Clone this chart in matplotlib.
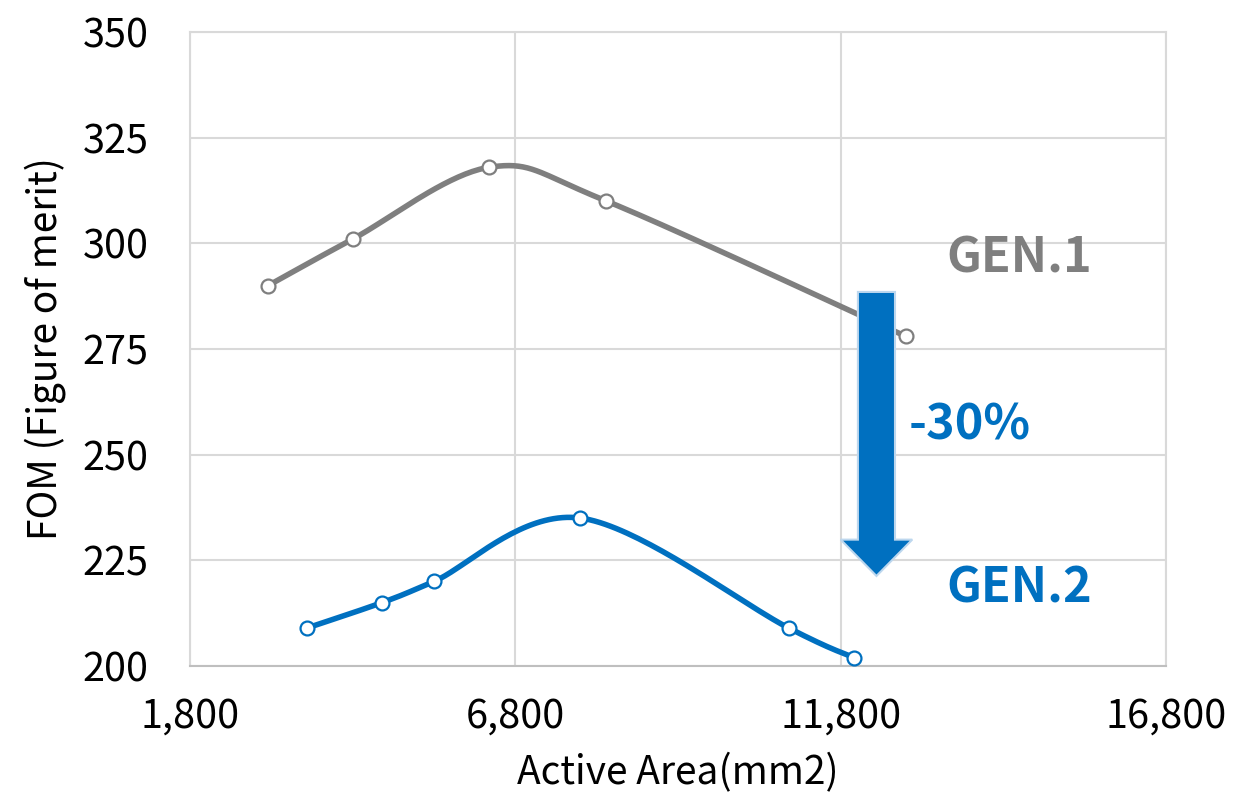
import numpy as np
import matplotlib
matplotlib.use("Agg")
import matplotlib.pyplot as plt
from matplotlib.patches import FancyArrow

plt.rcParams['font.family'] = ['Noto Sans CJK SC', 'DejaVu Sans']

# data
gen1_x = [3000, 4300, 6400, 8200, 12800]
gen1_y = [290, 301, 318, 310, 278]
gen2_x = [3600, 4750, 5550, 7800, 11000, 12000]
gen2_y = [209, 215, 220, 235, 209, 202]

x_ticks = [1800, 6800, 11800, 16800]
y_ticks = [200, 225, 250, 275, 300, 325, 350]

GRAY = '#7F7F7F'
BLUE = '#0070C0'


def smooth(xs, ys, n=40):
    # Catmull-Rom curve through the points, like Excel's smoothed line
    p = np.column_stack([xs, ys]).astype(float)
    p = np.vstack([p[0], p, p[-1]])
    out = []
    t = np.linspace(0, 1, n)[:, None]
    for i in range(1, len(p) - 2):
        p0, p1, p2, p3 = p[i - 1], p[i], p[i + 1], p[i + 2]
        c1 = p1 + (p2 - p0) / 6
        c2 = p2 - (p3 - p1) / 6
        seg = ((1 - t) ** 3) * p1 + 3 * ((1 - t) ** 2) * t * c1 + 3 * (1 - t) * t ** 2 * c2 + t ** 3 * p2
        out.append(seg)
    out = np.vstack(out)
    return out[:, 0], out[:, 1]


fig = plt.figure(figsize=(12.48, 7.93), dpi=100)
ax = fig.add_axes([190 / 1248, 1 - 666 / 793, (1166 - 190) / 1248, (666 - 32) / 793])

for xs, ys, c in [(gen1_x, gen1_y, GRAY), (gen2_x, gen2_y, BLUE)]:
    sx, sy = smooth(xs, ys)
    ax.plot(sx, sy, color=c, lw=4.0, solid_capstyle='round', zorder=3)
    ax.plot(xs, ys, ls='none', marker='o', ms=10, mfc='white', mec=c, mew=1.6, zorder=4)

ax.set_xlim(1800, 16800)
ax.set_ylim(200, 350)
ax.set_xticks(x_ticks)
ax.set_xticklabels([f'{v:,}' for v in x_ticks])
ax.set_yticks(y_ticks)
ax.tick_params(length=0, labelsize=28.5, colors='black')
ax.tick_params(axis='y', pad=30)
ax.tick_params(axis='x', pad=22)
ax.grid(True, color='#D9D9D9', lw=1.5)
ax.set_axisbelow(True)
for s in ax.spines.values():
    s.set_color('#D9D9D9')
    s.set_linewidth(1.5)
ax.spines['bottom'].set_color('#BFBFBF')

ax.set_xlabel('Active Area(mm2)', fontsize=28, labelpad=12)
ax.set_ylabel('FOM (Figure of merit)', fontsize=28, labelpad=12)

arrow = FancyArrow(12350, 288.5, 0, -67.2, width=570, head_width=1100, head_length=8.6,
                   length_includes_head=True, fc=BLUE, ec='#BDD7EE', lw=1.5, zorder=5)
ax.add_patch(arrow)

ax.text(13420, 296.5, 'GEN.1', color=GRAY, fontsize=35, fontweight='bold', va='center', ha='left')
ax.text(13420, 218.5, 'GEN.2', color=BLUE, fontsize=35, fontweight='bold', va='center', ha='left')
ax.text(12840, 257, '-30%', color=BLUE, fontsize=35, fontweight='bold', va='center', ha='left')

fig.savefig('out.png', dpi=100)
